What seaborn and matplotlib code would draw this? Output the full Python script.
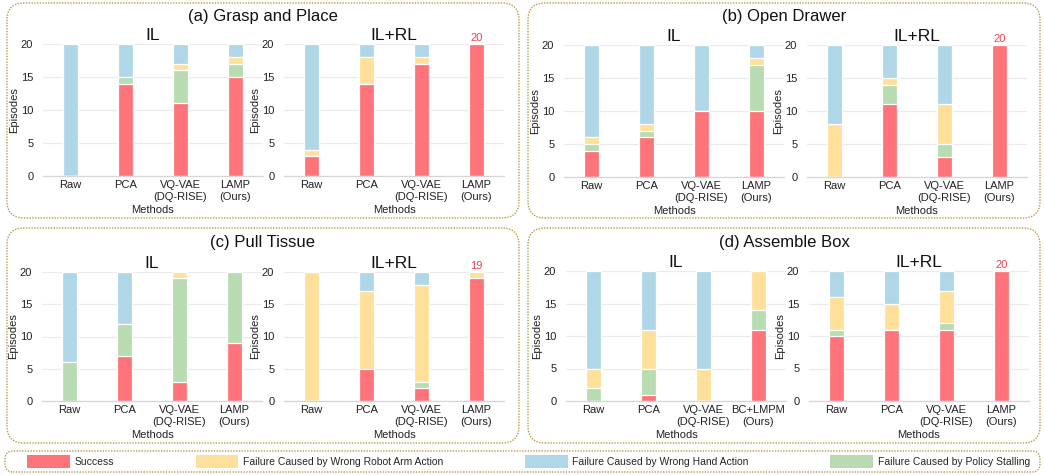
import matplotlib
matplotlib.use("Agg")
import matplotlib.pyplot as plt
import seaborn as sns
import numpy as np
from matplotlib.patches import FancyBboxPatch, Patch

# ---- categories -------------------------------------------------------------
methods = ["Raw", "PCA", "VQ-VAE\n(DQ-RISE)", "LAMP\n(Ours)"]
methods_box_il = ["Raw", "PCA", "VQ-VAE\n(DQ-RISE)", "BC+LMPM\n(Ours)"]

outcomes = ["Success",
            "Failure Caused by Wrong Robot Arm Action",
            "Failure Caused by Wrong Hand Action",
            "Failure Caused by Policy Stalling"]

# ---- episode counts (out of 20) per method ----------------------------------
# (a) Grasp and Place
grasp_il_success = [0, 14, 11, 15]
grasp_il_stall = [0, 1, 5, 2]
grasp_il_arm = [0, 0, 1, 1]
grasp_il_hand = [20, 5, 3, 2]

grasp_rl_success = [3, 14, 17, 20]
grasp_rl_stall = [0, 0, 0, 0]
grasp_rl_arm = [1, 4, 1, 0]
grasp_rl_hand = [16, 2, 2, 0]

# (b) Open Drawer
drawer_il_success = [4, 6, 10, 10]
drawer_il_stall = [1, 1, 0, 7]
drawer_il_arm = [1, 1, 0, 1]
drawer_il_hand = [14, 12, 10, 2]

drawer_rl_success = [0, 11, 3, 20]
drawer_rl_stall = [0, 3, 2, 0]
drawer_rl_arm = [8, 1, 6, 0]
drawer_rl_hand = [12, 5, 9, 0]

# (c) Pull Tissue
tissue_il_success = [0, 7, 3, 9]
tissue_il_stall = [6, 5, 16, 11]
tissue_il_arm = [0, 0, 1, 0]
tissue_il_hand = [14, 8, 0, 0]

tissue_rl_success = [0, 5, 2, 19]
tissue_rl_stall = [0, 0, 1, 0]
tissue_rl_arm = [20, 12, 15, 1]
tissue_rl_hand = [0, 3, 2, 0]

# (d) Assemble Box
box_il_success = [0, 1, 0, 11]
box_il_stall = [2, 4, 0, 3]
box_il_arm = [3, 6, 5, 6]
box_il_hand = [15, 9, 15, 0]

box_rl_success = [10, 11, 11, 20]
box_rl_stall = [1, 0, 1, 0]
box_rl_arm = [5, 4, 5, 0]
box_rl_hand = [4, 5, 3, 0]

# ---- style ------------------------------------------------------------------
RED = "#FF747B"
YELLOW = "#FFE09B"
BLUE = "#B0D7E8"
GREEN = "#B8DBB2"
LABEL_RED = "#E8434E"
BORDER = "#B89A48"

sns.set_theme(style="whitegrid")
plt.rcParams["font.family"] = ["Liberation Sans", "DejaVu Sans"]
plt.rcParams["axes.unicode_minus"] = False

W, H = 1044, 475
fig = plt.figure(figsize=(W / 100, H / 100), dpi=100)
fig.patch.set_facecolor("white")


def rect(left, top, bottom, width=220):
    return [left / W, 1 - bottom / H, width / W, (bottom - top) / H]


def stacked(ax, labels, success, stall, arm, hand, title, show_label):
    success = np.array(success)
    c1 = success + np.array(stall)
    c2 = c1 + np.array(arm)
    c3 = c2 + np.array(hand)
    # draw cumulative totals from the top layer down so each segment shows
    for vals, col in [(c3, BLUE), (c2, YELLOW), (c1, GREEN), (success, RED)]:
        sns.barplot(x=labels, y=vals, order=labels, color=col, saturation=1,
                    width=0.27, edgecolor="white", linewidth=0.9, ax=ax)
    ax.set_xlim(-0.5, 3.5)
    ax.set_ylim(0, 20)
    ax.set_yticks([0, 5, 10, 15, 20])
    ax.grid(axis="y", color="#EBEBEB", linewidth=0.9)
    ax.grid(axis="x", visible=False)
    ax.set_axisbelow(True)
    for s in ["left", "right", "top"]:
        ax.spines[s].set_visible(False)
    ax.spines["bottom"].set_color("#D6D6D6")
    ax.spines["bottom"].set_linewidth(0.9)
    ax.tick_params(axis="both", length=0, labelsize=8, colors="#222222")
    ax.tick_params(axis="y", pad=7)
    ax.tick_params(axis="x", pad=3)
    ax.set_xlabel("Methods", fontsize=8, labelpad=2, color="#222222")
    ax.set_ylabel("Episodes", fontsize=8, labelpad=1, color="#222222")
    ax.set_title(title, fontsize=12.5, pad=3, color="#111111")
    ax.set_facecolor("white")
    if show_label:
        ax.text(3, c3[3] + 0.2, f"{success[3]}", ha="center", va="bottom",
                fontsize=8, color=LABEL_RED)


panels = [
    (rect(43, 44, 176), methods, grasp_il_success, grasp_il_stall, grasp_il_arm, grasp_il_hand, "IL", False),
    (rect(284, 44, 176), methods, grasp_rl_success, grasp_rl_stall, grasp_rl_arm, grasp_rl_hand, "IL+RL", True),
    (rect(564, 45, 177), methods, drawer_il_success, drawer_il_stall, drawer_il_arm, drawer_il_hand, "IL", False),
    (rect(807, 45, 177), methods, drawer_rl_success, drawer_rl_stall, drawer_rl_arm, drawer_rl_hand, "IL+RL", True),
    (rect(42, 272, 401), methods, tissue_il_success, tissue_il_stall, tissue_il_arm, tissue_il_hand, "IL", False),
    (rect(284, 272, 401), methods, tissue_rl_success, tissue_rl_stall, tissue_rl_arm, tissue_rl_hand, "IL+RL", True),
    (rect(566, 271, 401), methods_box_il, box_il_success, box_il_stall, box_il_arm, box_il_hand, "IL", False),
    (rect(809, 271, 401), methods, box_rl_success, box_rl_stall, box_rl_arm, box_rl_hand, "IL+RL", True),
]

for r, labels, s, st, a, h, title, lab in panels:
    ax = fig.add_axes(r)
    stacked(ax, labels, s, st, a, h, title, lab)

# ---- task titles ------------------------------------------------------------
task_titles = ["(a) Grasp and Place", "(b) Open Drawer", "(c) Pull Tissue", "(d) Assemble Box"]
title_pos = [(263, 17), (784, 17), (263, 242), (784, 242)]
for t, (x, y) in zip(task_titles, title_pos):
    fig.text(x / W, 1 - y / H, t, ha="center", va="center", fontsize=12, color="#111111")


# ---- rounded dotted frames --------------------------------------------------
def frame(x0, y0, x1, y1, radius):
    box = FancyBboxPatch((x0 / 100, (H - y1) / 100), (x1 - x0) / 100, (y1 - y0) / 100,
                         boxstyle=f"round,pad=0,rounding_size={radius}",
                         transform=fig.dpi_scale_trans, facecolor="none",
                         edgecolor=BORDER, linestyle=(0, (1, 1)), linewidth=1.0,
                         zorder=-1)
    fig.add_artist(box)


frame(7, 3, 519, 218, 0.17)
frame(528, 3, 1040, 218, 0.17)
frame(7, 228, 519, 443, 0.17)
frame(528, 228, 1040, 443, 0.17)
frame(5, 451, 1040, 472, 0.08)

# ---- legend -----------------------------------------------------------------
handles = [Patch(facecolor=c, edgecolor="none") for c in [RED, YELLOW, BLUE, GREEN]]
fig.legend(handles, outcomes, loc="center", ncol=4, mode="expand",
           bbox_to_anchor=(27 / W, 1 - 470 / H, (1030 - 27) / W, 17 / H),
           frameon=False, fontsize=7.5, handlelength=4.1, handleheight=1.45,
           handletextpad=0.45, borderaxespad=0, borderpad=0)

fig.savefig("out.png", dpi=100)
